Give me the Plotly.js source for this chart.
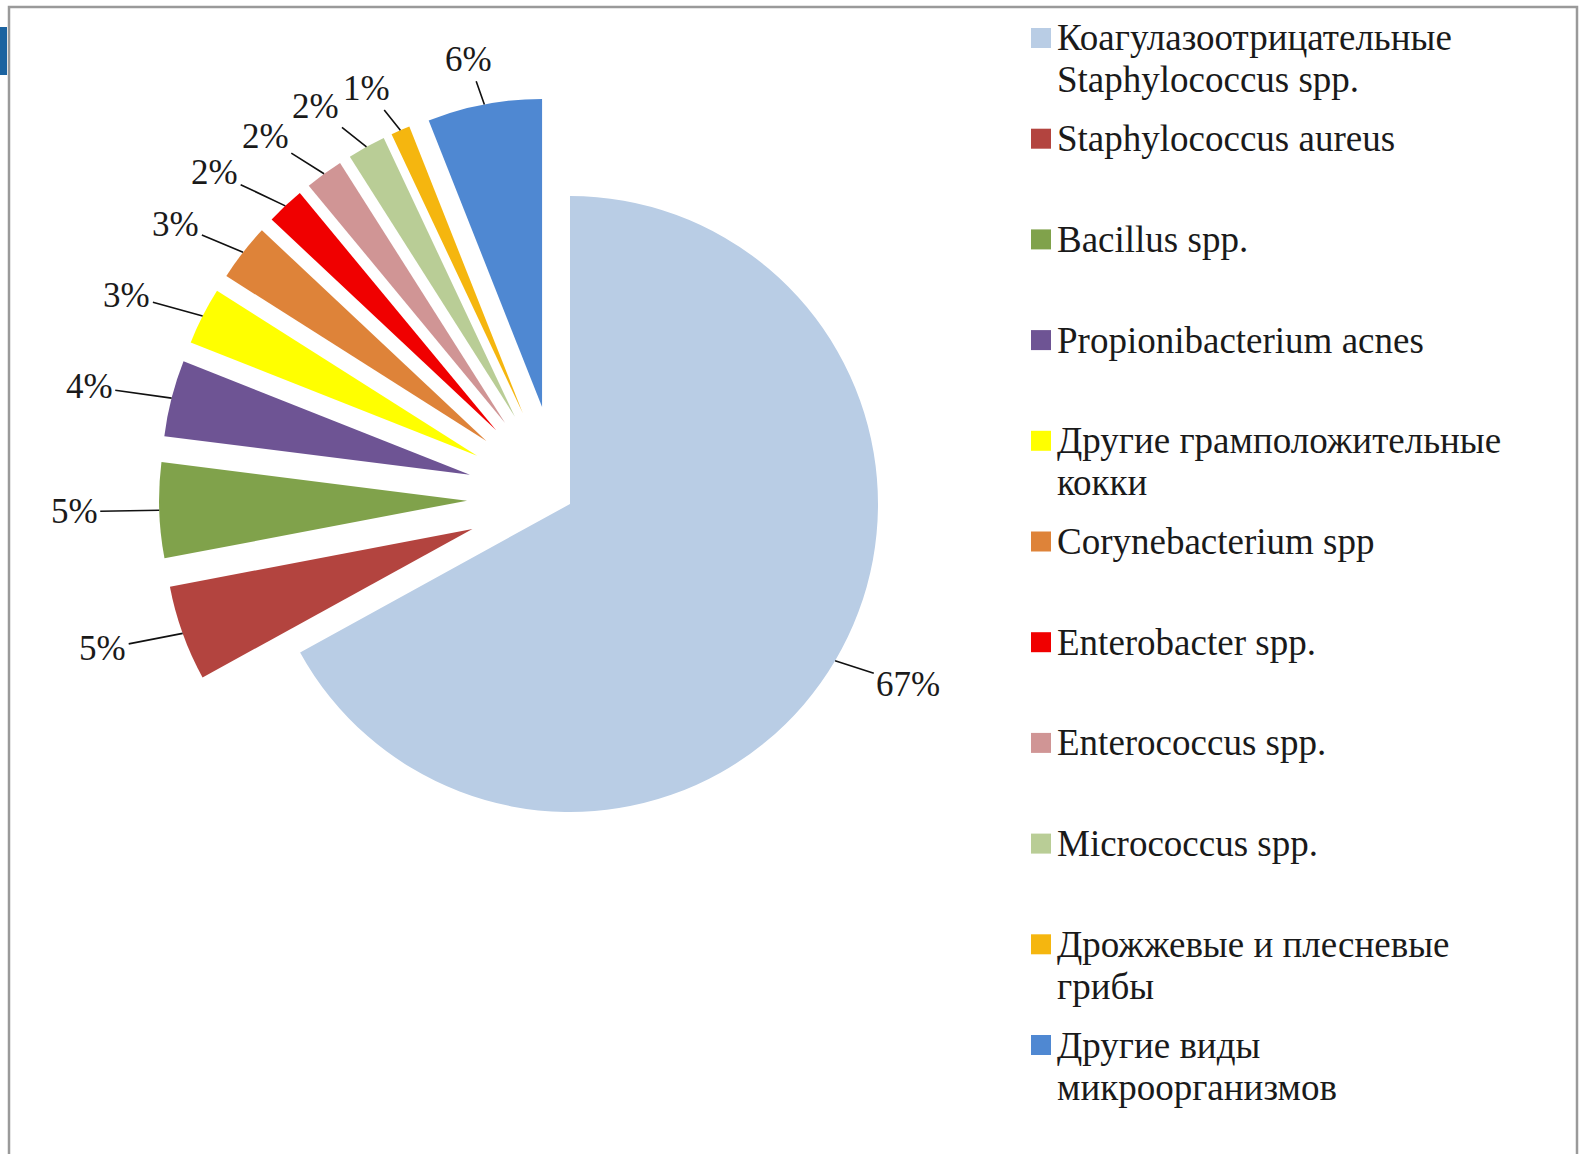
<!DOCTYPE html>
<html>
<head>
<meta charset="utf-8">
<script src="https://cdn.plot.ly/plotly-3.0.1.min.js"></script>
<style>
  html, body { margin: 0; padding: 0; background: #ffffff; }
  #chart { width: 1581px; height: 1154px; }
</style>
</head>
<body>
<div id="chart"></div>
<script>
// ---- data ----
const labels = [
  "Коагулазоотрицательные Staphylococcus spp.",
  "Staphylococcus aureus",
  "Bacillus spp.",
  "Propionibacterium acnes",
  "Другие грамположительные кокки",
  "Corynebacterium spp",
  "Enterobacter spp.",
  "Enterococcus spp.",
  "Micrococcus spp.",
  "Дрожжевые и плесневые грибы",
  "Другие виды микроорганизмов"
];
const legendLabels = [
  "Коагулазоотрицательные<br>Staphylococcus spp.",
  "Staphylococcus aureus",
  "Bacillus spp.",
  "Propionibacterium acnes",
  "Другие грамположительные<br>кокки",
  "Corynebacterium spp",
  "Enterobacter spp.",
  "Enterococcus spp.",
  "Micrococcus spp.",
  "Дрожжевые и плесневые<br>грибы",
  "Другие виды<br>микроорганизмов"
];
const values = [67, 5, 5, 4, 3, 3, 2, 2, 2, 1, 6];
const colors = [
  "#B9CDE5", "#B3443F", "#80A24B", "#6E5494", "#FFFF00", "#DE8339",
  "#F00000", "#D09595", "#B9CD96", "#F5B60F", "#4F88D2"
];

// ---- layout constants ----
const W = 1581, H = 1154;
const R = 308;                 // pie radius in px
const BIG_PULL = 0.04, SMALL_PULL = 0.30;
const apexX = 570, apexY = 504; // where the (slightly pulled) big slice's tip sits
const serif = "Liberation Serif, Times New Roman, serif";
const txtColor = "#1a1a1a";
const LBL_FONT = 35;

const pulls = values.map((v, i) => (i === 0 ? BIG_PULL : SMALL_PULL));
const maxPull = Math.max.apply(null, pulls);
const total = values.reduce((a, b) => a + b, 0);

// mid-angle of each slice (clockwise from 12 o'clock)
const mids = [];
let cum = 0;
values.forEach(v => { mids.push(2 * Math.PI * (cum + v / 2) / total); cum += v; });

// pie centre so that the big slice's tip lands at (apexX, apexY)
const cx = apexX - BIG_PULL * R * Math.sin(mids[0]);
const cy = apexY + BIG_PULL * R * Math.cos(mids[0]);
const ext = R * (1 + maxPull);

const trace = {
  type: "pie",
  labels: labels,
  values: values,
  sort: false,
  direction: "clockwise",
  rotation: 0,
  pull: pulls,
  marker: { colors: colors, line: { width: 0 } },
  textinfo: "none",
  domain: {
    x: [(cx - ext) / W, (cx + ext) / W],
    y: [1 - (cy + ext) / H, 1 - (cy - ext) / H]
  },
  showlegend: false,
  hoverinfo: "label+percent"
};

const shapes = [];
const annotations = [];

// ---- percentage labels with leader lines ----
const GAP_X = 85, GAP_Y = 46;
const lbl = values.map((v, i) => {
  const th = mids[i];
  const d = R * (1 + pulls[i]);
  const px = cx + d * Math.sin(th);
  const py = cy - d * Math.cos(th);
  const text = Math.round(100 * v / total) + "%";
  const w = LBL_FONT * (0.5 * (text.length - 1) + 0.833);
  return { px, py, lx: px + GAP_X * Math.sin(th), ly: py - GAP_Y * Math.cos(th), text, w };
});
// simple de-overlap: walk the small slices anticlockwise from the top and
// slide a label left if it collides with the one placed before it
const LINE_H = LBL_FONT * 1.3;
for (let i = values.length - 2; i >= 1; i--) {
  const a = lbl[i], b = lbl[i + 1];
  const need = (a.w + b.w) / 2 + 4;
  if (Math.abs(a.ly - b.ly) < LINE_H && b.lx - a.lx < need) a.lx = b.lx - need;
}
lbl.forEach(o => {
  annotations.push({
    xref: "paper", yref: "paper",
    x: o.px / W, y: 1 - o.py / H,
    ax: o.lx - o.px, ay: o.ly - o.py,
    text: o.text,
    showarrow: true, arrowhead: 0, arrowwidth: 1.6, arrowcolor: "#111111",
    standoff: 0, borderpad: 2,
    font: { family: serif, size: LBL_FONT, color: txtColor }
  });
});

// ---- manual legend built from the data arrays ----
const legFont = 37, legLine = 42;
const rowTop = 38, rowStep = 100.7;
const sq = 20, sqX = 1031, txtX = 1056;
labels.forEach((lab, i) => {
  const yc = rowTop + i * rowStep;
  shapes.push({
    type: "rect", xref: "paper", yref: "paper",
    x0: sqX / W, x1: (sqX + sq) / W,
    y0: 1 - (yc + sq / 2) / H, y1: 1 - (yc - sq / 2) / H,
    fillcolor: colors[i], line: { width: 0 }
  });
  legendLabels[i].split("<br>").forEach((line, k) => {
    annotations.push({
      xref: "paper", yref: "paper",
      x: txtX / W, y: 1 - (yc + k * legLine) / H,
      xanchor: "left", yanchor: "middle", align: "left",
      text: line, showarrow: false, borderpad: 0,
      font: { family: serif, size: legFont, color: txtColor }
    });
  });
});

// frame and the small slide mark at top-left
shapes.push({
  type: "rect", xref: "paper", yref: "paper",
  x0: 9 / W, x1: 1577 / W, y0: -0.05, y1: 1 - 7 / H,
  line: { color: "#9a9a9a", width: 2.5 }, fillcolor: "rgba(0,0,0,0)"
});
shapes.push({
  type: "rect", xref: "paper", yref: "paper",
  x0: 0, x1: 7 / W, y0: 1 - 75 / H, y1: 1 - 27 / H,
  line: { width: 0 }, fillcolor: "#1B63A0"
});

const layout = {
  width: W, height: H,
  margin: { l: 0, r: 0, t: 0, b: 0 },
  paper_bgcolor: "#ffffff",
  plot_bgcolor: "#ffffff",
  showlegend: false,
  font: { family: serif, color: txtColor },
  shapes: shapes,
  annotations: annotations
};

Plotly.newPlot("chart", [trace], layout, { displayModeBar: false, staticPlot: true });
</script>
</body>
</html>
